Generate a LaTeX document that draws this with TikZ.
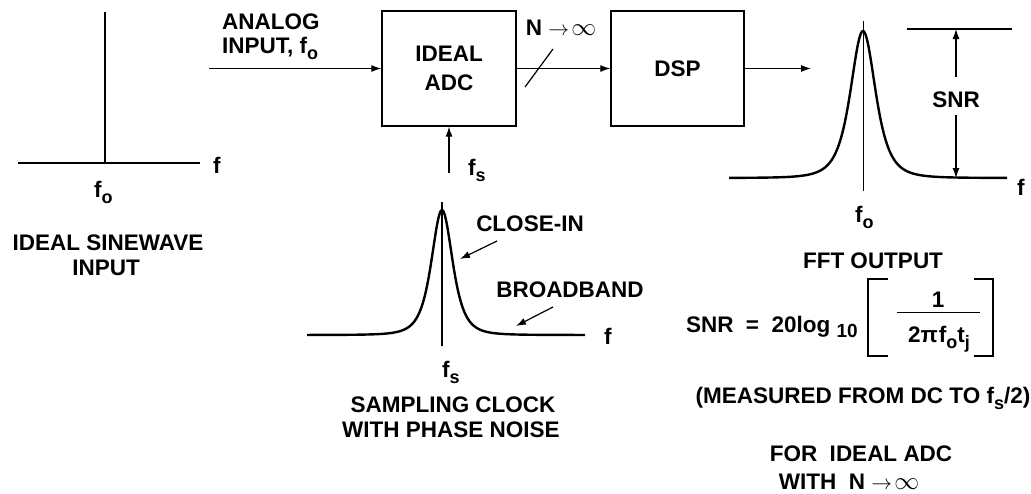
\documentclass[tikz,border=0pt]{standalone}
\usepackage{fontspec}
\setmainfont{Liberation Sans}
\usetikzlibrary{arrows.meta}
\newcommand\sbs[1]{\raisebox{-6pt}{\fontsize{18}{18}\selectfont #1}}
\newcommand\arrinf{$\rightarrow\!\mbox{\fontsize{25}{25}\selectfont$\infty$}$}
\begin{document}
\begin{tikzpicture}[x=1pt,y=-1pt,
  txt/.style={inner sep=0pt, font=\fontsize{22.5}{24}\selectfont\bfseries},
  blk/.style={draw, line width=1.3pt, inner sep=0pt, align=center,
    font=\fontsize{22.5}{23.5}\selectfont\bfseries},
  arr/.style={-{Latex[length=10pt,width=7pt]}, line width=1.2pt},
  curve/.style={line width=2.4pt, line join=round},
  axis/.style={line width=2pt}]
\useasboundingbox (0,0) rectangle (1031,493);

% ---------- left: ideal sinewave ----------
\draw[axis] (18,163) -- (200,163);
\draw[axis] (105,12) -- (105,163);
\node[txt, anchor=base west] (lf) at (213,173) {f};
\node[txt, anchor=base west] (lfo) at (94,197) {f\sbs{o}};
\node[txt, anchor=base] (ideal1) at (108,250) {IDEAL SINEWAVE};
\node[txt, anchor=base] (ideal2) at (106,275) {INPUT};

% ---------- blocks ----------
\node[blk, minimum width=134pt, minimum height=115pt] (adc) at (449,68.5) {IDEAL\\[5pt]ADC};
\node[blk, minimum width=133pt, minimum height=115pt] (dsp) at (677.5,68.5) {DSP};

\node[txt, anchor=base west] (an1) at (222,29) {ANALOG};
\node[txt, anchor=base west] (an2) at (222,53) {INPUT, f\sbs{o}};
\coordinate (inL) at (209,68.5);
\draw[arr] (inL) -- (adc.west);

\draw[arr] (adc.east) -- (dsp.west);
\draw[line width=1.2pt] (525,87) -- (553,49);
\node[txt, anchor=base] (ninf) at (561,35) {N \arrinf};

\coordinate (fsB) at (449,173);
\draw[arr] (fsB) -- (adc.south);
\node[txt, anchor=base west] (fsl) at (468,175) {f\sbs{s}};

\coordinate (outE) at (811,68.5);
\draw[arr] (dsp.east) -- (outE);

% ---------- right: FFT output ----------
\draw[curve] plot[domain=-134:144, samples=279, smooth]
  ({863+\x},{178-147/((1+(\x/23)*(\x/23))*(1+(\x/23)*(\x/23)))});
\draw[line width=0.8pt] (863,21) -- (863,191);
\node[txt, anchor=base west] (rf) at (1017,195) {f};
\node[txt, anchor=base west] (rfo) at (855,222) {f\sbs{o}};
\draw[line width=1.2pt] (907,29) -- (1012,29);
\node[txt] (snrlab) at (956,99.5) {SNR};
\coordinate (snrT) at (956,29);
\coordinate (snrB) at (956,178);
\coordinate (snrA) at (956,77);
\coordinate (snrC) at (956,115);
\draw[arr] (snrA) -- (snrT);
\draw[arr] (snrC) -- (snrB);
\node[txt, anchor=base] (fft) at (873,268) {FFT OUTPUT};

% formula
\node[txt, anchor=base east] (form) at (858,332) {SNR\ \ =\ \ 20log\ \raisebox{-5pt}{\fontsize{19}{19}\selectfont 10}};
\draw[line width=1.5pt] (888,279) -- (868,279) -- (868,356) -- (888,356);
\draw[line width=1.5pt] (974,279) -- (993,279) -- (993,356) -- (974,356);
\draw[line width=1pt] (897,312) -- (980,312);
\node[txt, anchor=base] (num) at (938,307) {1};
\node[txt, anchor=base] (den) at (939,342) {2π\kern1pt f\sbs{o}t\sbs{j}};
\node[txt, anchor=base] (meas) at (863,403) {(MEASURED FROM DC TO f\sbs{s}/2)};
\node[txt, anchor=base] (for1) at (861,461) {FOR\ \ IDEAL ADC};
\node[txt, anchor=base] (for2) at (849,489) {WITH\ \ N \arrinf};

% ---------- bottom: sampling clock ----------
\draw[curve] plot[domain=-135:143, samples=279, smooth]
  ({442+\x},{335-125/((1+(\x/19.4)*(\x/19.4))*(1+(\x/19.4)*(\x/19.4)))});
\draw[line width=1.6pt] (442,202) -- (442,346);
\node[txt, anchor=base west] (bf) at (604,344) {f};
\node[txt, anchor=base west] (bfs) at (442,377) {f\sbs{s}};
\node[txt, anchor=base] (close) at (530,231) {CLOSE-IN};
\coordinate (closeA) at (497,241);
\coordinate (closeB) at (460,259);
\draw[arr] (closeA) -- (closeB);
\node[txt, anchor=base] (broad) at (570,297) {BROADBAND};
\coordinate (broadA) at (553,307);
\coordinate (broadB) at (516,326);
\draw[arr] (broadA) -- (broadB);
\node[txt, anchor=base] (samp1) at (453,412) {SAMPLING CLOCK};
\node[txt, anchor=base] (samp2) at (451,437) {WITH PHASE NOISE};
\end{tikzpicture}
\end{document}
